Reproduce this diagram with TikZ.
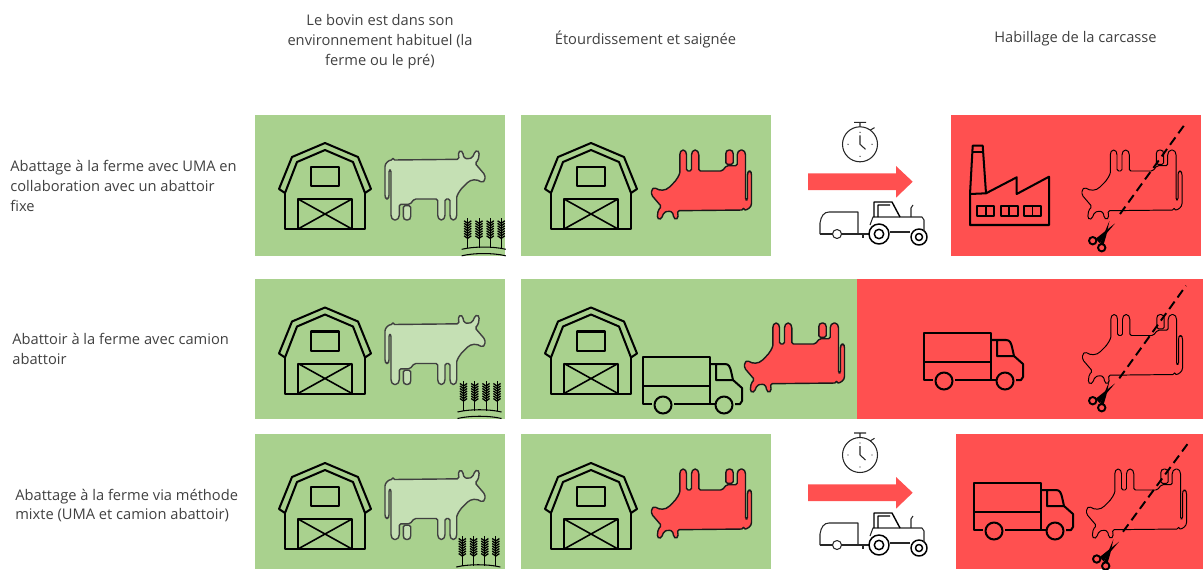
\documentclass[tikz,border=0pt]{standalone}
\usepackage{fontspec}
\setmainfont{Open Sans}
\usepackage{xcolor}
\usetikzlibrary{calc}
\definecolor{prairie}{HTML}{A9D18E}
\definecolor{palecow}{HTML}{C5E0B4}
\definecolor{abattage}{HTML}{FF5050}
\definecolor{texte}{HTML}{404040}

\begin{document}
\begin{tikzpicture}[x=0.02cm, y=-0.02cm, line join=round,
    every node/.style={font=\fontsize{8.35}{11.3}\selectfont, text=texte, inner sep=0pt},
    rowlabel/.style={anchor=west, align=left},
    header/.style={align=center},
    icon/.style={line width=1.15pt, black},
    fine/.style={line width=0.6pt, black!85},
    deadcow/.style={rotate=180, draw=black!90, line width=0.8pt, fill=abattage},
    cutcow/.style={rotate=180, draw=black, line width=0.55pt},
    livecow/.style={draw=black!75, line width=0.8pt, fill=palecow},
    cutline/.style={black, line width=1.1pt, dash pattern=on 5.2pt off 2.9pt},
    barn/.pic={
      \draw[icon] (24,74) -- (37,42) -- (70,28) -- (103,42) -- (116,74) -- (110,78)
        -- (98,47) -- (70,35) -- (42,47) -- (30,78) -- cycle;
      \draw[icon] (30,78) -- (30,114) -- (110,114) -- (110,78);
      \draw[icon] (56,52) rectangle (84,71);
      \draw[icon] (43,114) -- (43,84) -- (97,84) -- (97,114);
      \draw[icon, line width=0.9pt] (43,84) -- (97,114) (97,84) -- (43,114);
    },
    cow/.pic={
      \path[pic actions, rounded corners=0.9pt] (-42,-25) -- (24,-25.7) -- (23.3,-32.7) -- (25.7,-34.7)
        -- (27.7,-32.7) -- (29,-27) -- (33.3,-26) -- (37.5,-27.5) -- (40,-33.3) -- (42.3,-34.7)
        -- (44.3,-32.7) -- (43.3,-25) -- (40,-21.7) -- (50,-10) -- (50,-5) -- (47.3,-2.3)
        .. controls (42,-6) and (36,-6) .. (31,-1) .. controls (27,3) and (25,5) .. (23,9)
        .. controls (22,11) and (21.7,12) .. (21.7,14) -- (21.7,31.7) -- (20,35) -- (16.7,35) -- (15,31.7)
        -- (15,14) -- (10,14) -- (10,31.7) -- (8,35) -- (4.7,35) -- (2.7,31.7) -- (2.7,14)
        -- (-20.7,14) -- (-25,19.3) -- (-35.7,19.3) -- (-35.7,31.7) -- (-38,35) -- (-42,35)
        -- (-44,31.7) -- (-44,-15) -- (-46,-15) -- (-46,11.7) -- (-47,14) -- (-49,14) -- (-50,11.7)
        -- (-50,-17) .. controls (-50,-22) and (-46,-25) .. (-42,-25) -- cycle;
      \path[pic actions, rounded corners=0.9pt] (-31.7,20.7) -- (-31.7,33) -- (-30,35) -- (-26,35)
        -- (-24.3,33) -- (-24.3,20.7) -- cycle;
    },
    truck/.pic={
      \draw[icon] (9,47) -- (0,47) -- (0,0) -- (67,0) -- (67,47) -- (31,47);
      \draw[icon] (0,29) -- (67,29);
      \draw[icon] (67,7) -- (82,7) .. controls (86,7) and (87,10) .. (88,14) -- (90,23) -- (73,23) -- (73,7);
      \draw[icon] (90,23) -- (99,31) -- (99,44) -- (97,47) -- (92,47);
      \draw[icon] (67,47) -- (72,47);
      \draw[icon] (20,48) circle (8.5);
      \draw[icon] (81,48) circle (8.5);
    },
    tractor/.pic={
      \draw[fine] (0,0) -- (0,-11) .. controls (1,-18) and (4,-22) .. (9,-22) -- (38,-22) -- (38,0);
      \draw[fine] (0,0) -- (12.5,0) (21.5,0) -- (49,0) (43,0) -- (43,4);
      \draw[fine] (17,0) circle (4.5);
      \draw[icon, line width=0.85pt] (59,0) circle (10) (59,0) circle (4.7);
      \draw[icon, line width=0.85pt] (99,3) circle (8) (99,3) circle (3.5);
      \draw[fine] (50,-9) -- (53,-17) -- (102,-17) -- (104,-14) -- (104,-3);
      \draw[fine] (70,-2) -- (90,-2);
      \draw[icon, line width=0.8pt] (54,-17) -- (54,-32) -- (72,-32) -- (80,-17) (58,-17) -- (58,-29) -- (70,-29);
      \draw[fine] (91,-17) -- (91,-26) -- (93,-29);
    },
    stopwatch/.pic={
      \draw[fine] (0,0) circle (17.5);
      \draw[fine] (0,-17.5) -- (0,-22) (-6,-22) -- (6,-22) (10,-14) -- (14.5,-16.7);
      \draw[fine] (0,-9) -- (0,0) -- (5.5,5);
      \fill[black!85] (0,-12) circle (0.7) (0,12) circle (0.7) (-12,0) circle (0.7) (12,0) circle (0.7);
    },
    factory/.pic={
      \draw[icon] (20,79) -- (22.7,30.7) -- (32.7,30.7) -- (36,78.3);
      \draw[icon] (22.7,36.7) -- (33,36.7);
      \draw[icon] (20,79) -- (20,110) -- (99,110) -- (99,61.7) -- (66.7,79) -- (66.7,62.3) -- (36,78.3) -- cycle;
      \foreach \wx in {27.3,50.7,74} {
        \draw[icon, line width=1pt] (\wx,91) rectangle ++(17,9.7) (\wx+8.5,91) -- ++(0,9.7);
      }
    },
    wheat/.pic={
      \foreach \sx in {0,11.3,22.5,33.5} {
        \draw[black, line width=0.5pt] (\sx,-30) -- (\sx,0);
        \foreach \sy in {-25,-22.5,...,-10} {
          \draw[black, line width=0.75pt] (\sx-3.6,\sy-2.5) -- (\sx,\sy) -- (\sx+3.6,\sy-2.5);
        }
      }
      \draw[black, line width=0.6pt] (-6,1) .. controls (6,-2) and (26,-2) .. (38,1);
      \draw[black, line width=0.6pt] (-6,7.5) .. controls (6,4.5) and (26,4.5) .. (38,7.5);
    },
    cisors/.pic={
      \draw[black, line width=1.1pt] (0,0) circle (3.7) (9,7) circle (3.7);
      \fill[black] (3,-2) -- (22.3,-17.3) -- (11,-4) -- (7,2.5) -- cycle;
      \fill[black] (7,3.5) -- (16.7,-19.7) -- (13.5,-5) -- (11,3.5) -- cycle;
    }]
  \useasboundingbox (0,0) rectangle (1203,569);

  % bandes de fond
  \fill[prairie] (255,115) rectangle (505,256);
  \fill[prairie] (521,115) rectangle (771,256);
  \fill[abattage] (951,115) rectangle (1201,256);
  \fill[prairie] (255,279) rectangle (505,419);
  \fill[prairie] (521,279) rectangle (857,419);
  \fill[abattage] (857,279) rectangle (1203,419);
  \fill[prairie] (255,434) rectangle (505,569);
  \fill[prairie] (521,434) rectangle (771,569);
  \fill[abattage] (956,434) rectangle (1203,569);

  % titres
  \node[header] (titrebovin) at (380,41.5) {Le bovin est dans son\\environnement habituel (la\\ferme ou le pré)};
  \node[header] (titresaignee) at (645.5,39) {Étourdissement et saignée};
  \node[header] (titrehabillage) at (1075.5,38.5) {Habillage de la carcasse};
  \node[rowlabel] (ligneuma) at (10,186) {Abattage à la ferme avec UMA en\\collaboration avec un abattoir\\fixe};
  \node[rowlabel] (lignecamion) at (12,349) {Abattoir à la ferme avec camion\\abattoir};
  \node[rowlabel] (lignemixte) at (15,505.5) {Abattage à la ferme via méthode\\mixte (UMA et camion abattoir)};

  % ligne 1
  \pic at (255,115) {barn};
  \pic[livecow] at (435,185) {cow};
  \pic at (467.7,248.3) {wheat};
  \pic at (521,115) {barn};
  \pic[deadcow] at (701.5,185) {cow};
  \pic at (860,144.3) {stopwatch};
  \fill[abattage] (808,173.3) -- (896,173.3) -- (896,166) -- (912.7,181.7) -- (896,197.7) -- (896,190) -- (808,190) -- cycle;
  \pic at (820,234) {tractor};
  \pic at (950,115) {factory};
  \pic[cutcow] at (1132,185) {cow};
  \draw[cutline] (1120,214) -- (1186,122.7);
  \pic at (1092.7,240.7) {cisors};

  % ligne 2
  \pic at (255,279.5) {barn};
  \pic[livecow] at (435,349.5) {cow};
  \pic at (463.5,411) {wheat};
  \pic at (521,279.5) {barn};
  \pic at (643,357) {truck};
  \pic[deadcow] at (794.5,358) {cow};
  \pic at (924,333) {truck};
  \pic[cutcow] at (1132.5,349.5) {cow};
  \draw[cutline] (1119.3,378.3) -- (1186,285.7);
  \pic at (1092.7,400.7) {cisors};

  % ligne 3
  \pic at (255,435) {barn};
  \pic[livecow] at (435,504.5) {cow};
  \pic at (462.3,566) {wheat};
  \pic at (521,435) {barn};
  \pic[deadcow] at (701.5,504) {cow};
  \pic at (860,455) {stopwatch};
  \fill[abattage] (808,484.3) -- (896,484.3) -- (896,477) -- (912.7,492.7) -- (896,508.7) -- (896,501) -- (808,501) -- cycle;
  \pic at (820,545) {tractor};
  \pic at (974,483) {truck};
  \pic[cutcow] at (1136.5,504) {cow};
  \draw[cutline] (1123,531.7) -- (1189,442);
  \pic at (1096.7,559) {cisors};
\end{tikzpicture}
\end{document}
